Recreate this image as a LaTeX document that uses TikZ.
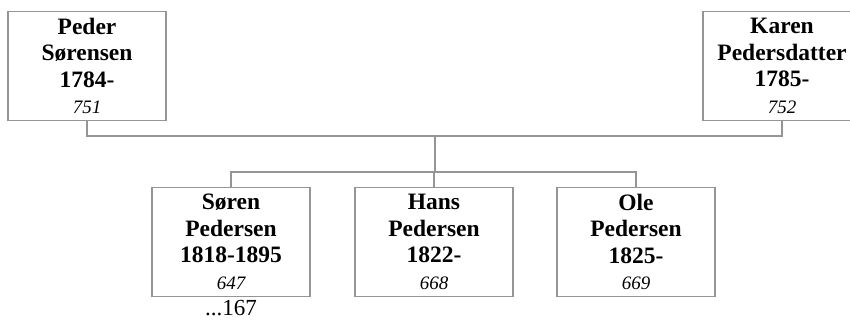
\documentclass[tikz,border=0pt]{standalone}
\usepackage{fontspec}
\setmainfont{Liberation Serif}
\definecolor{linegray}{HTML}{959595}
\begin{document}
\begin{tikzpicture}[x=1pt,y=1pt,
  person/.style={draw=linegray, line width=1.4pt, fill=white,
    minimum width=158pt, minimum height=109pt, inner sep=0pt,
    align=center, font=\fontsize{23.5}{26.5}\selectfont\bfseries},
  conn/.style={draw=linegray, line width=1.4pt}]
\useasboundingbox (0,0) rectangle (850,320);
\clip (0,0) rectangle (850,320);
\newcommand{\refno}[1]{{\fontsize{19}{24}\selectfont\mdseries\itshape #1}}
\node[person] (peder) at (87,254) {Peder\\Sørensen\\1784-\\\refno{751}};
\node[person] (karen) at (782,254) {Karen\\Pedersdatter\\1785-\\\refno{752}};
\node[person] (soren) at (231,78) {Søren\\Pedersen\\1818-1895\\\refno{647}};
\node[person] (hans) at (434,78) {Hans\\Pedersen\\1822-\\\refno{668}};
\node[person] (ole) at (636,78) {Ole\\Pedersen\\1825-\\\refno{669}};
\node[anchor=base, inner sep=0pt, font=\fontsize{23}{26}\selectfont] (more) at (231,4.5) {...167};
\coordinate (pm) at (435,184);
\coordinate (cm) at (435,148);
\draw[conn] (peder.south) |- (pm) -| (karen.south);
\draw[conn] (pm) -- (cm);
\draw[conn] (soren.north) |- (cm) -| (ole.north);
\draw[conn] (hans.north) -- (hans.north |- cm);
\end{tikzpicture}
\end{document}
